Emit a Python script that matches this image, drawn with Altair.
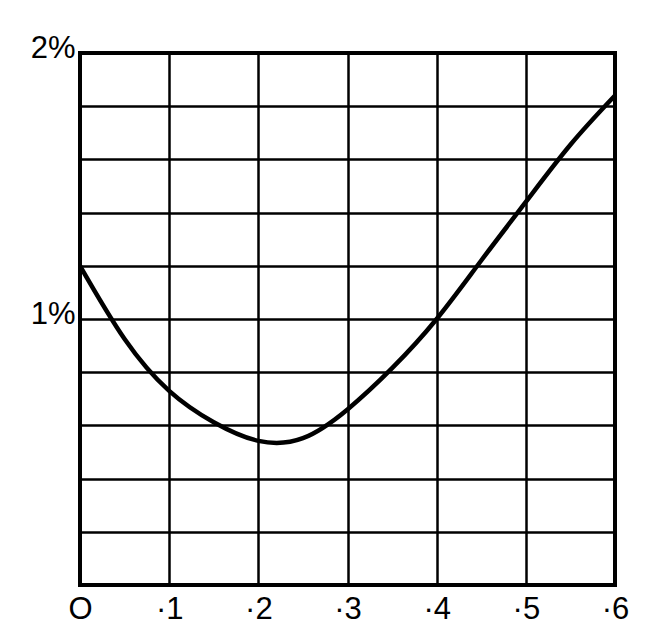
import altair as alt
import pandas as pd

# curve
xs = [0.0, 0.05, 0.1, 0.15, 0.2, 0.25, 0.3, 0.35, 0.4, 0.45, 0.5, 0.55, 0.6]
ys = [1.2, 0.925, 0.73, 0.612, 0.542, 0.552, 0.66, 0.815, 1.0, 1.22, 1.44, 1.655, 1.84]

x_ticks = [0.0, 0.1, 0.2, 0.3, 0.4, 0.5, 0.6]
y_ticks = [0.0, 0.2, 0.4, 0.6, 0.8, 1.0, 1.2, 1.4, 1.6, 1.8, 2.0]

df = pd.DataFrame({"x": xs, "y": ys})

chart = alt.Chart(df).mark_line(color="black", strokeWidth=4.5, interpolate="natural").encode(
    x=alt.X("x:Q", scale=alt.Scale(domain=[0, 0.6], nice=False, zero=False),
            axis=alt.Axis(values=x_ticks, title=None, domain=False, ticks=False,
                          grid=True, gridColor="black", gridWidth=2.5, gridOpacity=1,
                          labelExpr="datum.value == 0 ? 'O' : '·' + round(datum.value * 10)",
                          labelFont="Liberation Sans", labelFontSize=31, labelColor="black",
                          labelPadding=9, labelFlush=False)),
    y=alt.Y("y:Q", scale=alt.Scale(domain=[0, 2], nice=False, zero=False),
            axis=alt.Axis(values=y_ticks, title=None, domain=False, ticks=False,
                          grid=True, gridColor="black", gridWidth=2.5, gridOpacity=1,
                          labelExpr="abs(datum.value - 1) < 0.001 ? '1%' : (abs(datum.value - 2) < 0.001 ? '2%' : '')",
                          labelFont="Liberation Sans", labelFontSize=31, labelColor="black",
                          labelPadding=5, labelOffset=-5, labelFlush=False)),
).properties(
    width=535, height=532,
    background="white",
    autosize=alt.AutoSizeParams(type="none"),
    padding={"left": 72, "top": 45, "right": 42, "bottom": 45},
).configure_view(
    stroke="black", strokeWidth=4
)

chart.save("out.html", embed_options={"renderer": "svg", "actions": False})
